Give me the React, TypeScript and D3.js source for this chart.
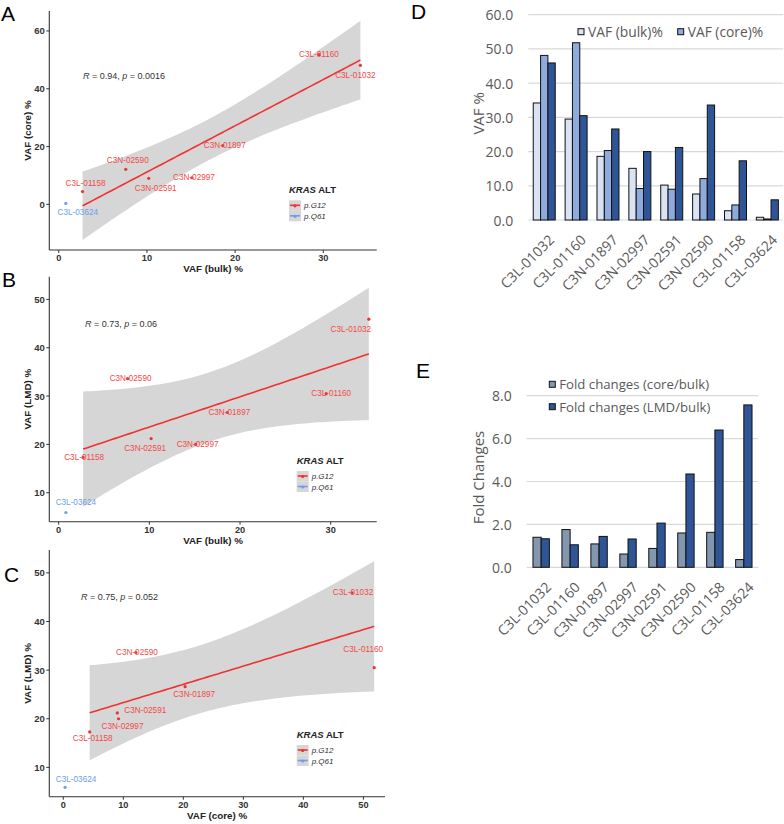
import React from "react";
import * as d3 from "d3";

// ---------- data ----------
const samples = ["C3L-01032", "C3L-01160", "C3N-01897", "C3N-02997", "C3N-02591", "C3N-02590", "C3L-01158", "C3L-03624"];
const mutation = ["p.G12", "p.G12", "p.G12", "p.G12", "p.G12", "p.G12", "p.G12", "p.Q61"];
const vafBulk = [34.2, 29.5, 18.6, 15.1, 10.2, 7.6, 2.7, 0.8];
const vafCore = [48.1, 51.8, 20.3, 9.2, 9.0, 12.1, 4.4, 0.3];
const vafLMD = [45.9, 30.5, 26.6, 20.0, 21.2, 33.6, 17.3, 5.9];
const foldCoreBulk = [1.40, 1.76, 1.09, 0.62, 0.88, 1.60, 1.63, 0.36];
const foldLMDBulk = [1.33, 1.05, 1.44, 1.32, 2.06, 4.35, 6.40, 7.57];

const ticksBulk = [0, 10, 20, 30];
const ticksCoreY = [0, 20, 40, 60];
const ticksCoreX = [0, 10, 20, 30, 40, 50];
const ticksLMD = [10, 20, 30, 40, 50];
const ticksVAF = [0, 10, 20, 30, 40, 50, 60];
const ticksFold = [0, 2, 4, 6, 8];

const corrA = ["0.94", "0.0016"];
const corrB = ["0.73", "0.06"];
const corrC = ["0.75", "0.052"];

const mutTypes = ["p.G12", "p.Q61"];
const vafSeries = ["VAF (bulk)%", "VAF (core)%", "VAF (LMD)%"];
const foldSeries = ["Fold changes (core/bulk)", "Fold changes (LMD/bulk)"];

// label offsets (px) for repelled text labels
const offsA = [[-5, 10], [0, 0], [2, 0], [2, 0], [7, 10], [2, -9], [3, -8], [12, 9]];
const offsB = [[-18, 10], [5, 0], [2, 0], [2, 0], [-6, 10], [3, 0], [1, 0], [10, -10]];
const offsC = [[1, 0], [-11, -18], [9, 8], [4, 8], [28, -2], [1, 0], [3, 7], [11, -8]];

// ---------- styles ----------
const RED = "#F23030";
const RED_TXT = "#F24A4A";
const BLUE = "#6E9CF0";
const mutColor = d3.scaleOrdinal<string, string>().domain(mutTypes).range([RED, BLUE]);
const mutTxtColor = d3.scaleOrdinal<string, string>().domain(mutTypes).range([RED_TXT, BLUE]);
const SANS = "'Liberation Sans', Arial, sans-serif";
const OFFICE = "'Open Sans', sans-serif";
const GRAY = "#595959";

type Box = { l: number; r: number; t: number; b: number };

function Scatter(props: {
  xs: number[]; ys: number[]; xDomain: [number, number]; yDomain: [number, number]; box: Box;
  xTicks: number[]; yTicks: number[]; xTitle: string; yTitle: string; corr: string[];
  corrPos: [number, number]; offs: number[][]; legendPos: [number, number];
}) {
  const { xs, ys, xDomain, yDomain, box, xTicks, yTicks, xTitle, yTitle, corr, corrPos, offs, legendPos } = props;
  const x = d3.scaleLinear().domain(xDomain).range([box.l, box.r]);
  const y = d3.scaleLinear().domain(yDomain).range([box.b, box.t]);
  const idx = samples.map((_, i) => i).filter((i) => mutation[i] === "p.G12");
  const fx = idx.map((i) => xs[i]);
  const n = idx.length;
  const mx = d3.mean(fx) as number;
  const my = d3.mean(idx, (i) => ys[i]) as number;
  const sxx = d3.sum(fx, (v) => (v - mx) ** 2);
  const sxy = d3.sum(idx, (i) => (xs[i] - mx) * (ys[i] - my));
  const b1 = sxy / sxx;
  const b0 = my - b1 * mx;
  const sse = d3.sum(idx, (i) => (ys[i] - b0 - b1 * xs[i]) ** 2);
  const s = Math.sqrt(sse / (n - 2));
  const tq = 2.5706;
  const [lo, hi] = d3.extent(fx) as [number, number];
  const pts = d3.range(0, 81).map((k) => {
    const g = lo + ((hi - lo) * k) / 80;
    const yh = b0 + b1 * g;
    const se = s * Math.sqrt(1 / n + (g - mx) ** 2 / sxx);
    return { g, yh, lo: yh - tq * se, hi: yh + tq * se };
  });
  const area = d3.area<any>().x((d) => x(d.g)).y0((d) => y(d.lo)).y1((d) => y(d.hi));
  const line = d3.line<any>().x((d) => x(d.g)).y((d) => y(d.yh));
  const axisColor = "#333";
  const [lx, ly] = legendPos;
  return (
    <g fontFamily={SANS}>
      <path d={area(pts) || ""} fill="#D6D6D6" />
      <path d={line(pts) || ""} fill="none" stroke={RED} strokeWidth={1.6} />
      {samples.map((nm, i) => (
        <circle key={"p" + i} cx={x(xs[i])} cy={y(ys[i])} r={1.6} fill={mutColor(mutation[i])} />
      ))}
      {samples.map((nm, i) => (
        <text key={"l" + i} x={x(xs[i]) + offs[i][0]} y={y(ys[i]) + offs[i][1]} fontSize={8.2}
          textAnchor="middle" dominantBaseline="central" fill={mutTxtColor(mutation[i])}>{nm}</text>
      ))}
      <text x={corrPos[0]} y={corrPos[1]} fontSize={9} fill="#333" dominantBaseline="central">
        <tspan fontStyle="italic">R</tspan> = {corr[0]}, <tspan fontStyle="italic">p</tspan> = {corr[1]}
      </text>
      {/* axes */}
      <line x1={box.l} x2={box.l} y1={box.t} y2={box.b} stroke={axisColor} strokeWidth={1.1} />
      <line x1={box.l} x2={box.r} y1={box.b} y2={box.b} stroke={axisColor} strokeWidth={1.1} />
      {yTicks.map((v) => (
        <g key={"yt" + v}>
          <line x1={box.l - 3} x2={box.l} y1={y(v)} y2={y(v)} stroke={axisColor} />
          <text x={box.l - 4.5} y={y(v)} fontSize={9.5} fontWeight="bold" fill="#333" textAnchor="end" dominantBaseline="central">{v}</text>
        </g>
      ))}
      {xTicks.map((v) => (
        <g key={"xt" + v}>
          <line x1={x(v)} x2={x(v)} y1={box.b} y2={box.b + 3} stroke={axisColor} />
          <text x={x(v)} y={box.b + 8} fontSize={9.2} fontWeight="bold" fill="#333" textAnchor="middle" dominantBaseline="central">{v}</text>
        </g>
      ))}
      <text x={(box.l + box.r) / 2} y={box.b + 22} fontSize={9.8} fontWeight="bold" fill="#222" textAnchor="middle">{xTitle}</text>
      <text transform={`translate(31,${(box.t + box.b) / 2}) rotate(-90)`} fontSize={9.8} fontWeight="bold" fill="#222" textAnchor="middle">{yTitle}</text>
      {/* legend */}
      <text x={lx} y={ly} fontSize={9.5} fontWeight="bold" fill="#222" dominantBaseline="central">
        <tspan fontStyle="italic">KRAS</tspan> ALT
      </text>
      {mutTypes.map((m, k) => {
        const ky = ly + 11 + k * 10.5;
        return (
          <g key={m}>
            <rect x={lx} y={ky} width={12} height={10.5} fill="#D6D6D6" />
            <line x1={lx + 1} x2={lx + 11} y1={ky + 5} y2={ky + 5} stroke={mutColor(m)} strokeWidth={1.6} />
            <circle cx={lx + 6} cy={ky + 5.5} r={1.6} fill={mutColor(m)} />
            <text x={lx + 15} y={ky + 5.5} fontSize={8} fontStyle="italic" fill="#333" dominantBaseline="central">{m}</text>
          </g>
        );
      })}
    </g>
  );
}

function Bars(props: {
  series: number[][]; names: string[]; colors: string[]; xRange: [number, number]; yDomain: [number, number];
  yRange: [number, number]; ticks: number[]; yTitle: string; padIn: number; padOut: number;
  legend: { x: number; y: number }[];
}) {
  const { series, names, colors, xRange, yDomain, yRange, ticks, yTitle, padIn, padOut, legend } = props;
  const x = d3.scaleBand<string>().domain(samples).range(xRange).paddingInner(padIn).paddingOuter(padOut);
  const inner = d3.scaleBand<number>().domain(series.map((_, j) => j)).range([0, x.bandwidth()]);
  const y = d3.scaleLinear().domain(yDomain).range(yRange);
  const gx0 = xRange[0] - 15;
  return (
    <g fontFamily={OFFICE}>
      {ticks.map((v) => (
        <g key={"g" + v}>
          <line x1={xRange[0]} x2={xRange[1]} y1={y(v)} y2={y(v)} stroke="#D9D9D9" strokeWidth={1.2} />
          <text x={gx0} y={y(v)} fontSize={14} fill={GRAY} textAnchor="end" dominantBaseline="central">{v.toFixed(1)}</text>
        </g>
      ))}
      {series.map((vals, j) =>
        vals.map((v, i) => (
          <rect key={j + "-" + i} x={(x(samples[i]) as number) + (inner(j) as number)} y={y(v)}
            width={inner.bandwidth()} height={y(0) - y(v)} fill={colors[j]} stroke="#111" strokeWidth={1} />
        ))
      )}
      {samples.map((s) => {
        const cx = (x(s) as number) + x.bandwidth() / 2 + 7;
        const cy = y(0) + 17;
        return (
          <text key={s} transform={`translate(${cx},${cy}) rotate(-45)`} fontSize={14} fill={GRAY}
            textAnchor="end" dominantBaseline="central">{s}</text>
        );
      })}
      <text transform={`translate(484,${(y(yDomain[0]) + y(yDomain[1])) / 2 - 4}) rotate(-90)`} fontSize={15} fill={GRAY}
        textAnchor="middle">{yTitle}</text>
      {legend.map((p, k) => (
        <g key={"lg" + k}>
          <rect x={p.x} y={p.y - 3} width={6} height={6} fill={colors[k]} stroke="#111" strokeWidth={1} />
          <text x={p.x + 10} y={p.y} fontSize={names === foldSeries ? 13.2 : 13.8} fill={GRAY} dominantBaseline="central">{names[k]}</text>
        </g>
      ))}
    </g>
  );
}

export default function App() {
  return (
    <svg width={784} height={824} style={{ position: "absolute", left: 0, top: 0, background: "#fff" }}>
      <rect width={784} height={824} fill="#fff" />
      <Scatter xs={vafBulk} ys={vafCore} xDomain={[-1.07, 36.05]} yDomain={[-15.8, 66.9]}
        box={{ l: 49.3, r: 376.7, t: 11, b: 250 }} xTicks={ticksBulk} yTicks={ticksCoreY}
        xTitle="VAF (bulk) %" yTitle="VAF (core) %" corr={corrA} corrPos={[83, 75.7]} offs={offsA} legendPos={[289, 189.3]} />
      <Scatter xs={vafBulk} ys={vafLMD} xDomain={[-1.03, 35.07]} yDomain={[4.0, 54.7]}
        box={{ l: 49.3, r: 376.7, t: 276.7, b: 521.7 }} xTicks={ticksBulk} yTicks={ticksLMD}
        xTitle="VAF (bulk) %" yTitle="VAF (LMD) %" corr={corrB} corrPos={[85, 324]} offs={offsB} legendPos={[296.7, 460]} />
      <Scatter xs={vafCore} ys={vafLMD} xDomain={[-2.33, 53.6]} yDomain={[3.97, 54.7]}
        box={{ l: 49.3, r: 385, t: 550, b: 796.7 }} xTicks={ticksCoreX} yTicks={ticksLMD}
        xTitle="VAF (core) %" yTitle="VAF (LMD) %" corr={corrC} corrPos={[81, 597.3]} offs={offsC} legendPos={[296.7, 734]} />

      <Bars series={[vafBulk, vafCore, vafLMD]} names={vafSeries} colors={["#DAE3F3", "#8FAADC", "#2F5597"]}
        xRange={[528.3, 783.3]} yDomain={[0, 60]} yRange={[220, 14.7]} ticks={ticksVAF} yTitle="VAF %"
        padIn={0.31} padOut={0.155} legend={[{ x: 578, y: 31.7 }, { x: 677.7, y: 31.7 }]} />
      <Bars series={[foldCoreBulk, foldLMDBulk]} names={foldSeries} colors={["#8497B0", "#2F5597"]}
        xRange={[526.7, 758.3]} yDomain={[0, 8]} yRange={[567.3, 395.7]} ticks={ticksFold} yTitle="Fold Changes"
        padIn={0.434} padOut={0.217} legend={[{ x: 549.3, y: 384.3 }, { x: 549.3, y: 406.7 }]} />

      <g fontFamily={SANS} fontSize={21} fill="#000">
        <text x={1} y={21}>A</text>
        <text x={2} y={287}>B</text>
        <text x={4} y={582}>C</text>
        <text x={411} y={19}>D</text>
        <text x={416} y={378}>E</text>
      </g>
    </svg>
  );
}
